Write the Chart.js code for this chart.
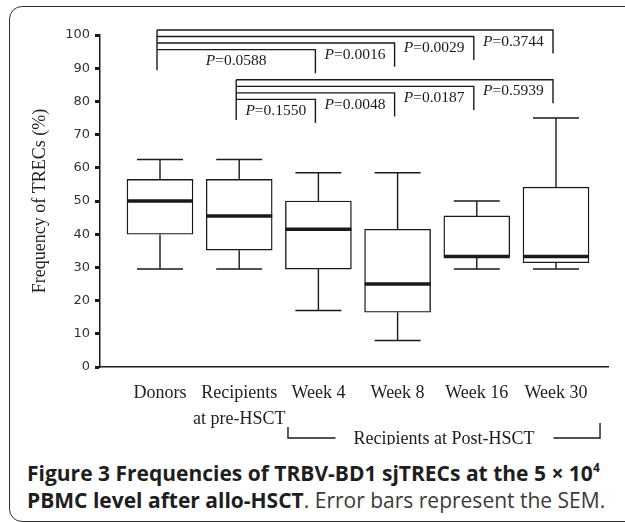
<!DOCTYPE html>
<html>
<head>
<meta charset="utf-8">
<script src="https://cdn.jsdelivr.net/npm/chart.js@4.4.1/dist/chart.umd.min.js"></script>
<style>
  html, body { margin: 0; padding: 0; background: #fff; }
  body { width: 625px; height: 522px; position: relative; overflow: hidden; }
  #frame { position: absolute; left: 9px; top: 6px; width: 660px; height: 516px; box-sizing: border-box;
           border: 1.5px solid #333; border-radius: 13px; }
  #wrap { position: absolute; left: 0; top: 0; width: 625px; height: 445px; }
  #caption { position: absolute; left: 27px; top: 460px; font-family: "Open Sans", sans-serif; font-size: 21px;
             line-height: 27px; color: #3a3a3a; white-space: nowrap; }
  #caption b { color: #1e1e1e; }
  #caption sup { font-size: 12px; line-height: 0; vertical-align: 9px; }
</style>
</head>
<body>
<div id="frame"></div>
<div id="wrap"><canvas id="chart" width="625" height="445"></canvas></div>
<div id="caption"><b>Figure 3 Frequencies of TRBV-BD1 sjTRECs at the 5 × 10<sup>4</sup></b><br><b>PBMC level after allo-HSCT</b>. Error bars represent the SEM.</div>
<script>
// categories and box values
const categories = [['Donors'], ['Recipients', 'at pre-HSCT'], ['Week 4'], ['Week 8'], ['Week 16'], ['Week 30']];
const whiskerLow = [29.5, 29.5, 17, 8, 29.5, 29.5];
const boxLow = [40, 35.2, 29.5, 16.5, 33.3, 31.4];
const medians = [50, 45.5, 41.5, 25, 33.3, 33.3];
const boxHigh = [56.5, 56.5, 50, 41.5, 45.5, 54.2];
const whiskerHigh = [62.5, 62.5, 58.5, 58.5, 50, 75];
const yTicks = [0, 10, 20, 30, 40, 50, 60, 70, 80, 90, 100];

// P values: Donors vs Week 4/8/16/30, pre-HSCT vs Week 4/8/16/30
const donorPValues = ['0.0588', '0.0016', '0.0029', '0.3744'];
const preHsctPValues = ['0.1550', '0.0048', '0.0187', '0.5939'];
const postGroupLabel = 'Recipients at Post-HSCT';

const serif = '"Liberation Serif", "Times New Roman", serif';
const ink = '#1a1a1a';

// whiskers + median lines
const boxParts = {
    id: 'boxParts',
    afterDatasetsDraw(chart) {
        const {ctx, scales: {x, y}} = chart;
        ctx.save();
        ctx.strokeStyle = ink;
        ctx.lineCap = 'butt';
        categories.forEach((c, i) => {
            const px = x.getPixelForValue(i);
            ctx.lineWidth = 1.4;
            ctx.beginPath();
            ctx.moveTo(px, y.getPixelForValue(boxHigh[i]));
            ctx.lineTo(px, y.getPixelForValue(whiskerHigh[i]));
            ctx.moveTo(px - 23, y.getPixelForValue(whiskerHigh[i]));
            ctx.lineTo(px + 23, y.getPixelForValue(whiskerHigh[i]));
            ctx.moveTo(px, y.getPixelForValue(boxLow[i]));
            ctx.lineTo(px, y.getPixelForValue(whiskerLow[i]));
            ctx.moveTo(px - 23, y.getPixelForValue(whiskerLow[i]));
            ctx.lineTo(px + 23, y.getPixelForValue(whiskerLow[i]));
            ctx.stroke();
            // median
            ctx.lineWidth = 3.5;
            ctx.beginPath();
            ctx.moveTo(px - 33, y.getPixelForValue(medians[i]));
            ctx.lineTo(px + 33, y.getPixelForValue(medians[i]));
            ctx.stroke();
        });
        ctx.restore();
    }
};

function drawPLabel(ctx, text, cx, cy) {
    ctx.font = 'italic 15.5px ' + serif;
    const wP = ctx.measureText('P').width;
    ctx.font = '15.5px ' + serif;
    const wRest = ctx.measureText('=' + text).width;
    const start = cx - (wP + wRest) / 2;
    ctx.font = 'italic 15.5px ' + serif;
    ctx.fillText('P', start, cy);
    ctx.font = '15.5px ' + serif;
    ctx.fillText('=' + text, start + wP, cy);
}

function drawBracketGroup(ctx, x, y, fromIdx, pvals, base) {
    const left = x.getPixelForValue(fromIdx) - 3;
    const top = y.getPixelForValue(base + 1.97 * (pvals.length - 1));
    ctx.beginPath();
    ctx.moveTo(left, y.getPixelForValue(base - 6.2));
    ctx.lineTo(left, top);
    ctx.stroke();
    let prevRight = left;
    pvals.forEach((p, k) => {
        const lineY = y.getPixelForValue(base + 1.97 * k);
        const right = x.getPixelForValue(2 + k) - 3;
        const bottom = y.getPixelForValue(base + 1.97 * k - 7.1);
        ctx.beginPath();
        ctx.moveTo(left, lineY);
        ctx.lineTo(right, lineY);
        ctx.lineTo(right, bottom);
        ctx.stroke();
        drawPLabel(ctx, p, (prevRight + right) / 2, bottom - 12);
        prevRight = right;
    });
}

const brackets = {
    id: 'brackets',
    afterDraw(chart) {
        const {ctx, scales: {x, y}} = chart;
        ctx.save();
        ctx.strokeStyle = ink;
        ctx.fillStyle = ink;
        ctx.lineWidth = 1.4;
        ctx.textBaseline = 'middle';
        ctx.textAlign = 'left';
        drawBracketGroup(ctx, x, y, 0, donorPValues, 95.6);
        drawBracketGroup(ctx, x, y, 1, preHsctPValues, 80.6);

        // "Recipients at Post-HSCT" bracket under the axis
        const lineY = y.bottom + 71;
        const l = x.getPixelForValue(1.616), r = x.getPixelForValue(5.556);
        const cx = x.getPixelForValue(3.586);
        ctx.font = '18px ' + serif;
        const tw = ctx.measureText(postGroupLabel).width;
        ctx.beginPath();
        ctx.moveTo(l, lineY - 11);
        ctx.lineTo(l, lineY);
        ctx.lineTo(cx - tw / 2 - 18, lineY);
        ctx.moveTo(cx + tw / 2 + 19, lineY);
        ctx.lineTo(r, lineY);
        ctx.lineTo(r, lineY - 15);
        ctx.stroke();
        ctx.textAlign = 'center';
        ctx.textBaseline = 'alphabetic';
        ctx.fillText(postGroupLabel, cx, lineY + 6);
        ctx.restore();
    }
};

new Chart(document.getElementById('chart'), {
    type: 'bar',
    data: {
        datasets: [{
            data: boxLow.map((lo, i) => ({x: i, y: [lo, boxHigh[i]]})),
            backgroundColor: '#ffffff',
            borderColor: ink,
            borderWidth: 1.4,
            borderSkipped: false,
            barThickness: 66
        }]
    },
    options: {
        responsive: false,
        animation: false,
        devicePixelRatio: 1,
        layout: {padding: {left: 0, top: 35, right: 17, bottom: 0}},
        plugins: {legend: {display: false}, tooltip: {enabled: false}},
        scales: {
            x: {
                type: 'linear',
                offset: false,
                min: -0.7576,
                max: 5.6566,
                afterBuildTicks: s => { s.ticks = categories.map((c, i) => ({value: i})); },
                afterFit: s => { s.height = 445 - 367; },
                grid: {display: false, offset: false},
                border: {display: true, color: ink, width: 1.5},
                ticks: {
                    autoSkip: false,
                    maxRotation: 0,
                    padding: 6,
                    color: '#222',
                    font: {family: serif, size: 18, lineHeight: 1.4},
                    callback: (v, i) => categories[i]
                }
            },
            y: {
                min: 0,
                max: 100,
                afterBuildTicks: s => { s.ticks = yTicks.map(v => ({value: v})); },
                afterFit: s => { s.width = 100; },
                grid: {drawOnChartArea: false, tickLength: 5, tickWidth: 3, tickColor: ink},
                border: {display: true, color: ink, width: 1.5},
                ticks: {
                    padding: 5,
                    color: '#333',
                    font: {family: '"DejaVu Sans", sans-serif', size: 13}
                },
                title: {
                    display: true,
                    text: 'Frequency of TRECs (%)',
                    color: '#222',
                    font: {family: serif, size: 18},
                    padding: {top: 29, bottom: 0}
                }
            }
        }
    },
    plugins: [boxParts, brackets]
});
</script>
</body>
</html>
